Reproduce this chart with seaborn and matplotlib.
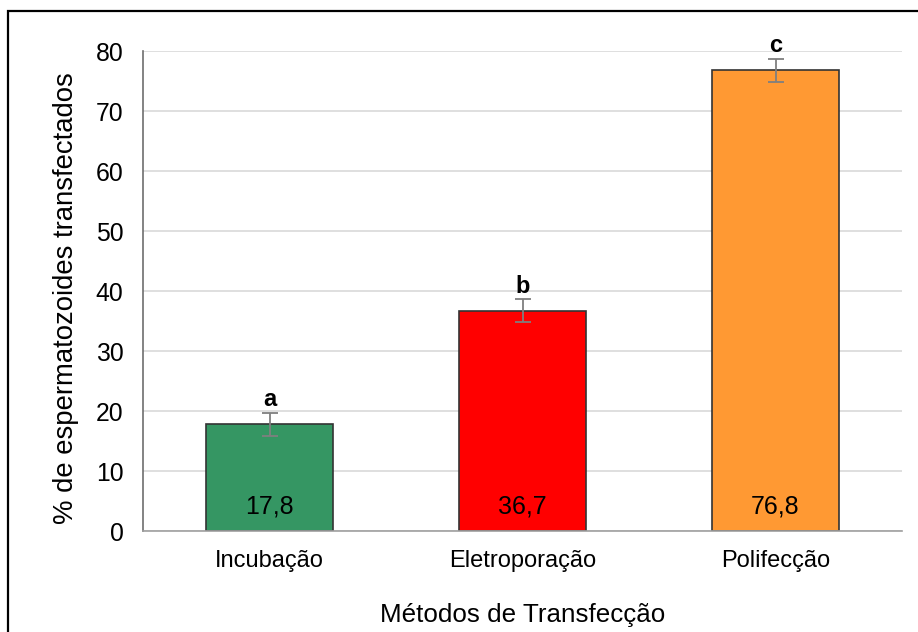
import matplotlib
matplotlib.use('Agg')
import matplotlib.pyplot as plt
import seaborn as sns
import pandas as pd
from matplotlib.patches import Rectangle

# data
metodos = ["Incubação", "Eletroporação", "Polifecção"]
medias = [17.8, 36.7, 76.8]
erros = [1.9, 1.9, 1.9]
letras = ["a", "b", "c"]
cores = ["#359663", "#FF0000", "#FF9933"]

df = pd.DataFrame({"metodo": metodos, "media": medias})

sns.set_style("white")
plt.rcParams['font.family'] = ['Liberation Sans', 'DejaVu Sans']
plt.rcParams['text.color'] = 'black'
plt.rcParams['axes.labelcolor'] = 'black'
plt.rcParams['xtick.color'] = 'black'
plt.rcParams['ytick.color'] = 'black'

fig = plt.figure(figsize=(9.18, 6.32), dpi=100)
ax = fig.add_axes([0.1558, 0.1598, 0.8268, 0.7595])

sns.barplot(data=df, x="metodo", y="media", hue="metodo", palette=cores,
            saturation=1, width=0.5, edgecolor="#333333", linewidth=1.2,
            legend=False, ax=ax)

xs = range(len(metodos))
ax.errorbar(list(xs), medias, yerr=erros, fmt="none", ecolor="#7f7f7f",
            elinewidth=1.3, capsize=6, capthick=1.3, zorder=5)

for i in xs:
    ax.text(i, 4.1, f"{medias[i]:.1f}".replace(".", ","), ha="center", va="center",
            fontsize=18, color="black", zorder=6)
    ax.text(i, medias[i] + erros[i] + 1.1, letras[i], ha="center", va="baseline",
            fontsize=17, fontweight="bold", zorder=6)

ax.set_xlim(-0.5, 2.5)
ax.set_ylim(0, 80)
ax.set_yticks(range(0, 81, 10))
ax.yaxis.grid(True, color="#d9d9d9", linewidth=1.2)
ax.set_axisbelow(True)
for s in ["top", "right"]:
    ax.spines[s].set_visible(False)
ax.spines["left"].set_color("#6e6e6e")
ax.spines["bottom"].set_color("#a0a0a0")
ax.spines["left"].set_linewidth(1.2)
ax.spines["bottom"].set_linewidth(1.2)
ax.tick_params(axis="y", length=0, pad=14, labelsize=17.8)
ax.tick_params(axis="x", length=0, pad=14, labelsize=17)

ax.set_xlabel("Métodos de Transfecção", fontsize=18.7, labelpad=22)
ax.set_ylabel("% de espermatozoides transfectados", fontsize=19.8)
ax.yaxis.set_label_coords(-0.084, 0.485)

# outer black frame
fig.patches.append(Rectangle((0.0087, -0.05), 1.1, 1.0326, transform=fig.transFigure,
                             fill=False, edgecolor="black", linewidth=1.6))

fig.savefig("out.png", dpi=100)
plt.close(fig)
